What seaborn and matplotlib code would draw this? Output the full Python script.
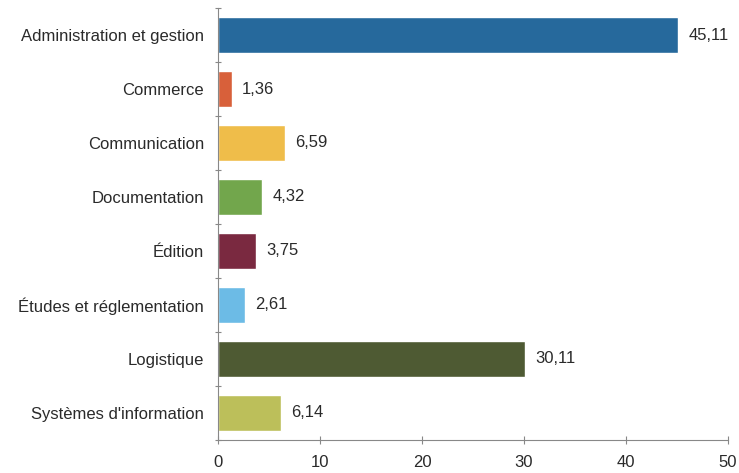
import matplotlib
matplotlib.use("Agg")
import matplotlib.pyplot as plt
import seaborn as sns
import pandas as pd
import numpy as np
from matplotlib.ticker import FixedLocator

categories = [
    "Administration et gestion",
    "Commerce",
    "Communication",
    "Documentation",
    "Édition",
    "Études et réglementation",
    "Logistique",
    "Systèmes d'information",
]
values = [45.11, 1.36, 6.59, 4.32, 3.75, 2.61, 30.11, 6.14]
value_labels = ["45,11", "1,36", "6,59", "4,32", "3,75", "2,61", "30,11", "6,14"]
colors = ["#26699c", "#d8603a", "#efbd4a", "#72a64c", "#7a2940",
          "#6cbbe6", "#4e5a33", "#bcbf5a"]
x_ticks = [0, 10, 20, 30, 40, 50]

sns.set_theme(style="white")
plt.rcParams["font.family"] = ["Liberation Sans", "DejaVu Sans"]

df = pd.DataFrame({"cat": categories, "val": values})

fig = plt.figure(figsize=(7.39, 4.73), dpi=100)
ax = fig.add_axes([0.295, 0.07, 0.69, 0.913])

sns.barplot(data=df, x="val", y="cat", hue="cat", palette=colors,
            order=categories, hue_order=categories, legend=False,
            width=0.66, saturation=1, ax=ax)

for i, (v, lab) in enumerate(zip(values, value_labels)):
    ax.text(v + 1.0, i, lab, va="center", ha="left", fontsize=12,
            color="#2a2a2a")

ax.set_xlim(0, 50)
ax.set_ylim(len(categories) - 0.5, -0.5)
ax.set_xticks(x_ticks)
ax.set_xticklabels([str(t) for t in x_ticks])
ax.set_xlabel("")
ax.set_ylabel("")

# category labels without marks; marks sit between categories
ax.tick_params(axis="y", which="major", length=0, pad=10, labelsize=12,
               labelcolor="#2a2a2a")
ax.yaxis.set_minor_locator(FixedLocator(np.arange(-0.5, len(categories), 1.0)))
ax.tick_params(axis="y", which="minor", left=True, length=5, direction="inout",
               width=0.8, color="#888888")
ax.tick_params(axis="x", which="major", bottom=True, length=6, direction="inout",
               width=0.8, color="#888888", labelsize=12, labelcolor="#2a2a2a",
               pad=8)

for side in ["top", "right"]:
    ax.spines[side].set_visible(False)
for side in ["left", "bottom"]:
    ax.spines[side].set_color("#888888")
    ax.spines[side].set_linewidth(0.8)

fig.savefig("out.png", dpi=100)
